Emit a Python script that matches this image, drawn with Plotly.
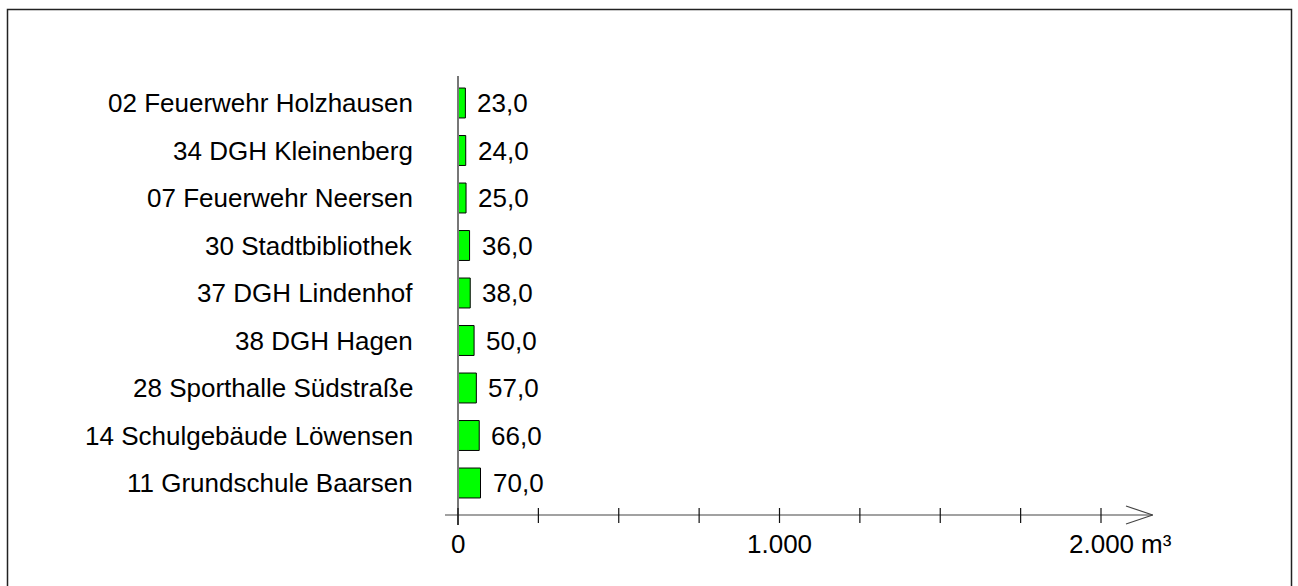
import plotly.graph_objects as go

# Data (top to bottom as shown)
categories = [
    "02 Feuerwehr Holzhausen",
    "34 DGH Kleinenberg",
    "07 Feuerwehr Neersen",
    "30 Stadtbibliothek",
    "37 DGH Lindenhof",
    "38 DGH Hagen",
    "28 Sporthalle Südstraße",
    "14 Schulgebäude Löwensen",
    "11 Grundschule Baarsen",
]
values = [23.0, 24.0, 25.0, 36.0, 38.0, 50.0, 57.0, 66.0, 70.0]
value_labels = ["23,0", "24,0", "25,0", "36,0", "38,0", "50,0", "57,0", "66,0", "70,0"]
tick_values = [0, 250, 500, 750, 1000, 1250, 1500, 1750, 2000]
tick_label_values = [0, 1000, 2000]
tick_label_texts = ["0", "1.000", "2.000"]
unit_text = "m³"

W, H = 1298, 586
FONT = "Liberation Sans, Arial, sans-serif"
FS = 26

# screen pixel -> paper / data helpers (layout decoration only)
def py(pix):
    return 1 - pix / H

def px(pix):
    return pix / W

k = 0.3215  # px per unit
x0_pix = 458
x_range = [-x0_pix / k, (W - x0_pix) / k]
def xd(pix):
    return (pix - x0_pix) / k

# category axis: bottom category index 0 at pixel 483, spacing 47.5
sp = 47.5
y_range = [-(H - 483) / sp, (len(categories) - 1) + 103 / sp]

order = list(reversed(categories))

fig = go.Figure()
fig.add_trace(go.Bar(
    x=values, y=categories, orientation="h",
    width=0.63,
    marker=dict(color="#00ff00", line=dict(color="#000000", width=1)),
    hoverinfo="skip",
))

annotations = []
for c, v, t in zip(categories, values, value_labels):
    annotations.append(dict(x=v, y=c, xref="x", yref="y", text=t, showarrow=False,
                            xanchor="left", yanchor="middle", xshift=10,
                            font=dict(family=FONT, size=FS, color="#000")))
    annotations.append(dict(x=0, y=c, xref="x", yref="y", text=c, showarrow=False,
                            xanchor="right", yanchor="middle", xshift=-43,
                            font=dict(family=FONT, size=FS, color="#000")))

axis_y = 515
for v, t in zip(tick_label_values, tick_label_texts):
    annotations.append(dict(x=v, y=py(544), xref="x", yref="paper", text=t, showarrow=False,
                            xanchor="center", yanchor="middle",
                            font=dict(family=FONT, size=FS, color="#000")))
annotations.append(dict(x=tick_label_values[-1], y=py(544), xref="x", yref="paper",
                        text=unit_text, showarrow=False, xanchor="left", yanchor="middle",
                        xshift=38, font=dict(family=FONT, size=FS, color="#000")))

shapes = []
# border
shapes.append(dict(type="rect", xref="paper", yref="paper",
                   x0=px(7.5), x1=px(1291.5), y0=-0.1, y1=py(9.5),
                   line=dict(color="#222", width=1.5)))
# vertical axis line at 0
shapes.append(dict(type="line", xref="x", yref="paper", x0=0, x1=0,
                   y0=py(76), y1=py(525), line=dict(color="#777", width=2)))
# horizontal axis line
tip = xd(1152.7)
shapes.append(dict(type="line", xref="x", yref="paper", x0=xd(445), x1=tip,
                   y0=py(axis_y), y1=py(axis_y), line=dict(color="#444", width=1.2)))
# arrow head
shapes.append(dict(type="line", xref="x", yref="paper", x0=xd(1126), x1=tip,
                   y0=py(506), y1=py(axis_y), line=dict(color="#444", width=1.2)))
shapes.append(dict(type="line", xref="x", yref="paper", x0=xd(1126), x1=tip,
                   y0=py(524), y1=py(axis_y), line=dict(color="#444", width=1.2)))
# tick marks
for tv in tick_values:
    shapes.append(dict(type="line", xref="x", yref="paper", x0=tv, x1=tv,
                       y0=py(508), y1=py(525 if tv == 0 else 523),
                       line=dict(color="#111", width=1.2)))

fig.update_layout(
    width=W, height=H,
    margin=dict(l=0, r=0, t=0, b=0),
    paper_bgcolor="white", plot_bgcolor="white",
    showlegend=False,
    xaxis=dict(range=x_range, showgrid=False, zeroline=False, showticklabels=False,
               showline=False, ticks="", fixedrange=True),
    yaxis=dict(type="category", categoryorder="array", categoryarray=order,
               range=y_range, showgrid=False, zeroline=False, showticklabels=False,
               showline=False, ticks="", fixedrange=True),
    annotations=annotations,
    shapes=shapes,
)

fig.write_html(
    "out.html",
    config={"displayModeBar": False},
    post_script="document.body.style.margin='0';document.body.style.overflow='hidden';",
)
